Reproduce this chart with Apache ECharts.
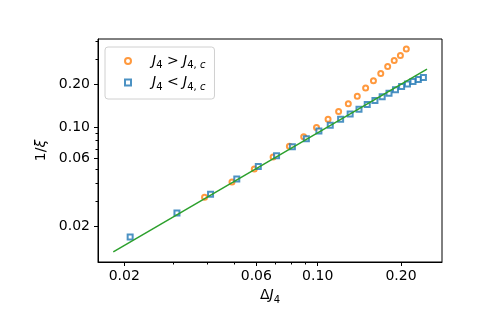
<!doctype html>
<html lang="en">
<head>
    <meta charset="UTF-8">
    <title>1/xi vs dJ4</title>
    <style>
        html, body { margin: 0; padding: 0; background: #fff; }
        #chart { width: 491px; height: 327px; }
    </style>
</head>
<body>
<div id="chart"></div>
<script src="https://cdn.jsdelivr.net/npm/echarts@6/dist/echarts.min.js"></script>
<script>
    // J4 > J4,c  (orange circles)
    var xAbove = [0.039, 0.049, 0.059, 0.069, 0.079, 0.089, 0.099, 0.109, 0.119,
        0.129, 0.139, 0.149, 0.159, 0.169, 0.179, 0.189, 0.199, 0.209];
    var yAbove = [0.0319, 0.0409, 0.0505, 0.0614, 0.0730, 0.0853, 0.0988, 0.1132, 0.1282,
        0.1452, 0.1645, 0.1875, 0.211, 0.2377, 0.266, 0.2934, 0.3184, 0.353];
    // J4 < J4,c  (blue squares)
    var xBelow = [0.021, 0.031, 0.041, 0.051, 0.061, 0.071, 0.081, 0.091, 0.101, 0.111,
        0.121, 0.131, 0.141, 0.151, 0.161, 0.171, 0.181, 0.191, 0.201, 0.211,
        0.221, 0.231, 0.241];
    var yBelow = [0.01675, 0.0248, 0.0336, 0.0430, 0.0527, 0.0627, 0.0726, 0.0826, 0.0936, 0.1028,
        0.1132, 0.1234, 0.1333, 0.1435, 0.1531, 0.1627, 0.1728, 0.1823, 0.1923, 0.200,
        0.2086, 0.2156, 0.2229];
    // fitted power law (green line), end points
    var fitX = [0.01825, 0.2483];
    var fitY = [0.01318, 0.2553];

    var xMajor = [0.02, 0.06, 0.10, 0.20];
    var yMajor = [0.02, 0.06, 0.10, 0.20];
    var xMinor = [0.03, 0.04, 0.05, 0.07, 0.08, 0.09];
    var yMinor = [0.03, 0.04, 0.05, 0.07, 0.08, 0.09, 0.3, 0.4];
    var xRange = [0.01607, 0.2813];
    var yRange = [0.01119, 0.4155];

    function pairs(xs, ys) {
        var out = [];
        for (var i = 0; i < xs.length; i++) out.push([xs[i], ys[i]]);
        return out;
    }

    var font = 'DejaVu Sans';
    var mathRich = {
        g: {width: 16},
        i: {fontFamily: font, fontStyle: 'italic', fontSize: 14, color: '#000'},
        n: {fontFamily: font, fontSize: 14, color: '#000'},
        s: {fontFamily: font, fontStyle: 'normal', fontSize: 10, color: '#000',
            verticalAlign: 'bottom', lineHeight: 19},
        si: {fontFamily: font, fontStyle: 'italic', fontSize: 10, color: '#000',
            verticalAlign: 'bottom', lineHeight: 19}
    };

    function logAxis(range, ticks, len, labels, extra) {
        var ax = {
            type: 'log',
            logBase: 10,
            min: range[0],
            max: range[1],
            splitLine: {show: false},
            axisLine: {show: labels, lineStyle: {color: '#000', width: 1}},
            axisTick: {show: true, inside: false, length: len, customValues: ticks,
                lineStyle: {color: '#000', width: 1}},
            axisLabel: {show: labels, customValues: ticks, color: '#000', fontFamily: font, fontSize: 14,
                formatter: function (v) { return Number(v).toFixed(2); }}
        };
        for (var k in extra) ax[k] = extra[k];
        return ax;
    }

    var chart = echarts.init(document.getElementById('chart'), null, {renderer: 'canvas'});
    chart.setOption({
        animation: false,
        backgroundColor: '#fff',
        grid: {left: 98, right: 49, top: 39, bottom: 65, show: true,
            borderColor: '#000', borderWidth: 1, backgroundColor: 'transparent'},
        legend: {
            data: ['above', 'below'],
            orient: 'vertical',
            left: 105, top: 47,
            padding: [7, 9, 7, 19],
            itemWidth: 6, itemHeight: 6, itemGap: 5,
            borderColor: '#d0d0d0', borderWidth: 1, borderRadius: 3,
            backgroundColor: 'rgba(255,255,255,0.8)',
            textStyle: {fontFamily: font, fontSize: 14, color: '#000', rich: mathRich},
            formatter: function (name) {
                if (name === 'above') return '{g|}{i|J}{s|4}{n| > }{i|J}{s|4, }{si|c}';
                return '{g|}{i|J}{s|4}{n| < }{i|J}{s|4, }{si|c}';
            }
        },
        xAxis: [
            logAxis(xRange, xMajor, 4, true, {
                position: 'bottom',
                axisLabel: {show: true, customValues: xMajor, margin: 7, color: '#000', fontFamily: font, fontSize: 14,
                    formatter: function (v) { return Number(v).toFixed(2); }},
                name: '{n|Δ}{i|J}{s|4}', nameLocation: 'middle', nameGap: 24,
                nameTextStyle: {rich: mathRich}
            }),
            logAxis(xRange, xMinor, 2.5, false, {position: 'bottom'})
        ],
        yAxis: [
            logAxis(yRange, yMajor, 4, true, {
                position: 'left',
                name: '{n|1/}{i|ξ}', nameLocation: 'middle', nameGap: 48, nameRotate: 90,
                nameTextStyle: {rich: mathRich}
            }),
            logAxis(yRange, yMinor, 2.5, false, {position: 'left'})
        ],
        series: [
            {
                name: 'above', type: 'scatter', symbol: 'emptyCircle', symbolSize: 5,
                itemStyle: {color: '#ff7f0e', borderWidth: 1},
                data: pairs(xAbove, yAbove), z: 2
            },
            {
                name: 'below', type: 'scatter', symbol: 'emptyRect', symbolSize: 5,
                itemStyle: {color: '#1f77b4', borderWidth: 1},
                data: pairs(xBelow, yBelow), z: 3
            },
            {
                name: 'fit', type: 'line', showSymbol: false, symbol: 'none',
                lineStyle: {color: '#2ca02c', width: 1.5},
                data: pairs(fitX, fitY), z: 4
            }
        ]
    });
</script>
</body>
</html>
